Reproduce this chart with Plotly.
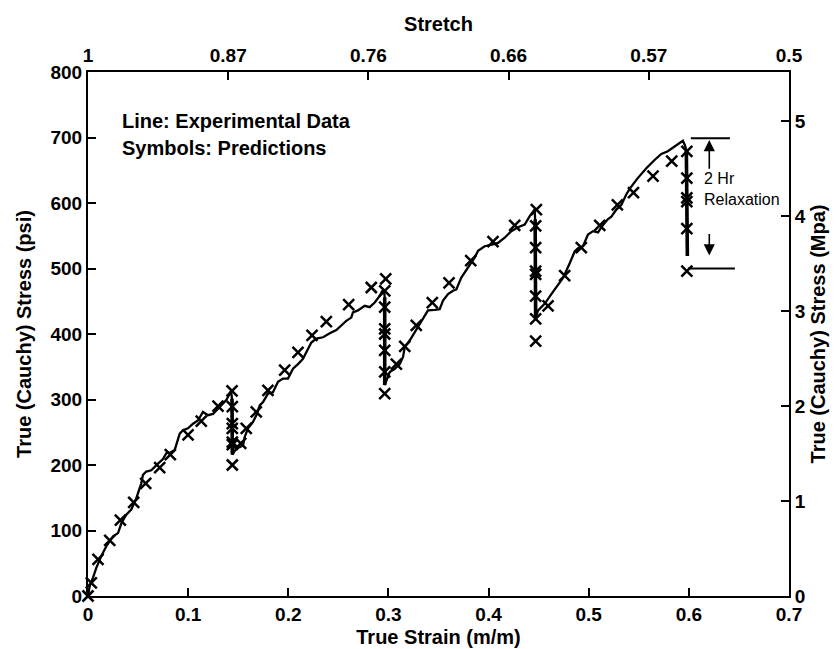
import plotly.graph_objects as go

# ---------------- data ----------------
# Experimental curve: true strain (m/m) and true stress (psi)
exp_strain = [0, 0.0017, 0.005, 0.0083, 0.0133, 0.0183, 0.025, 0.030, 0.0333, 0.0382,
              0.0432, 0.0482, 0.0532, 0.0549, 0.0582, 0.0632, 0.0699, 0.0749, 0.0782, 0.0822,
              0.0866, 0.0916, 0.0949, 0.0998, 0.1049, 0.1098, 0.1148, 0.1198, 0.1248, 0.1315,
              0.1381, 0.1415, 0.1428, 0.1438, 0.1441,
              0.1481, 0.1548, 0.1565, 0.1598, 0.1648, 0.1681, 0.1715, 0.1748, 0.1797, 0.1847,
              0.1897, 0.1947, 0.1997, 0.2047, 0.2097, 0.2147, 0.2180, 0.2230, 0.2280, 0.2347,
              0.2414, 0.2480, 0.2529, 0.2579, 0.2629, 0.2646, 0.2696, 0.2763, 0.2813, 0.2863,
              0.2913, 0.2936, 0.2955, 0.2963, 0.2963,
              0.3013, 0.3063, 0.3113, 0.3146, 0.3163, 0.3212, 0.3262, 0.3312, 0.3362, 0.3395,
              0.3462, 0.3512, 0.3545, 0.3595, 0.3645, 0.3678, 0.3728, 0.3795, 0.3862, 0.3895,
              0.3961, 0.4044, 0.4094, 0.4161, 0.4227, 0.4294, 0.4361, 0.4411, 0.4444, 0.4460,
              0.4465, 0.4470,
              0.4494, 0.4560, 0.4627, 0.4693, 0.4745, 0.4810, 0.4860, 0.4893, 0.4943, 0.4993,
              0.5043, 0.5093, 0.5135, 0.5190, 0.5226, 0.5276, 0.5325, 0.5375, 0.5410, 0.5490,
              0.5575, 0.5660, 0.5725, 0.5790, 0.5860, 0.5910, 0.5940, 0.5958, 0.5975, 0.5985]
exp_stress = [0, 15, 28, 43, 61, 76, 91, 96, 111, 124,
              132, 149, 172, 185, 190, 192, 202, 209, 218, 219,
              223, 248, 253, 256, 263, 268, 281, 276, 278, 288,
              299, 309, 313, 301, 216,
              225, 230, 243, 256, 266, 276, 291, 296, 309, 311,
              327, 332, 332, 347, 354, 362, 372, 387, 393, 395,
              401, 406, 413, 420, 425, 433, 436, 443, 441, 448,
              458, 465, 468, 456, 322,
              342, 347, 354, 365, 380, 390, 403, 415, 428, 436,
              437, 438, 451, 461, 466, 468, 486, 501, 517, 527,
              534, 537, 539, 547, 557, 563, 567, 580, 588, 590,
              575, 425,
              436, 446, 461, 476, 486, 508, 526, 531, 534, 552,
              557, 555, 565, 575, 579, 590, 597, 613, 622, 638,
              653, 666, 675, 679, 686, 691, 695, 689, 681, 519]

# Relaxation holds of the experiment (drawn heavier in the reference)
hold_strain = [0.1438, 0.1441, None, 0.2963, 0.2963, None, 0.4465, 0.4470, None, 0.5975, 0.5985]
hold_stress = [301, 216, None, 456, 322, None, 575, 425, None, 681, 519]

# Model predictions (symbols)
pred_strain = [0, 0.0033, 0.010, 0.0217, 0.0323, 0.0456, 0.0576, 0.0716, 0.0822, 0.0999,
               0.1131, 0.1298, 0.1438,
               0.1441, 0.1441, 0.1441, 0.1441, 0.1441, 0.1441,
               0.1525, 0.1580, 0.1680, 0.1797, 0.1964, 0.2097, 0.2237, 0.2380, 0.2603, 0.2829,
               0.2973,
               0.2963, 0.2963, 0.2963, 0.2963, 0.2963, 0.2963, 0.2963,
               0.3079, 0.3163, 0.3278, 0.3438, 0.3605, 0.3822, 0.4044, 0.4261, 0.4477,
               0.4470, 0.4470, 0.4470, 0.4470, 0.4470, 0.4470, 0.4470,
               0.4594, 0.4760, 0.4926, 0.5110, 0.5286, 0.5447, 0.5642, 0.5829,
               0.5980, 0.5980, 0.5980, 0.5980, 0.5980, 0.5980]
pred_stress = [0, 20, 56, 85, 116, 143, 172, 196, 216, 246,
               267, 290, 313,
               289, 263, 256, 235, 231, 200,
               233, 256, 281, 314, 345, 372, 398, 419, 445, 471,
               484,
               466, 441, 408, 400, 375, 342, 309,
               354, 381, 413, 448, 478, 512, 541, 566, 590,
               565, 532, 496, 491, 458, 423, 389,
               443, 489, 532, 566, 597, 616, 641, 664,
               679, 638, 608, 602, 561, 496]

# Axis ticks
psi_ticks = [0, 100, 200, 300, 400, 500, 600, 700, 800]
mpa_ticks = [0, 1, 2, 3, 4, 5]
strain_ticks = [0, 0.1, 0.2, 0.3, 0.4, 0.5, 0.6, 0.7]
stretch_tick_strain = [0, 0.14, 0.28, 0.42, 0.56, 0.70]
stretch_labels = ["1", "0.87", "0.76", "0.66", "0.57", "0.5"]

PSI_PER_MPA = 145.04
X_RANGE = [0, 0.7]
Y_RANGE = [0, 800]

# Relaxation bracket (strain, psi)
relax_top = 699
relax_bottom = 500

FONT = "Liberation Sans, Arial, Helvetica, sans-serif"

fig = go.Figure()

fig.add_trace(go.Scatter(
    x=exp_strain, y=exp_stress, mode="lines",
    line=dict(color="black", width=2.3), showlegend=False, hoverinfo="skip"))

fig.add_trace(go.Scatter(
    x=hold_strain, y=hold_stress, mode="lines",
    line=dict(color="black", width=3.6), showlegend=False, hoverinfo="skip",
    connectgaps=False))

fig.add_trace(go.Scatter(
    x=pred_strain, y=pred_stress, mode="markers",
    marker=dict(symbol="x-thin", size=11, color="black",
                line=dict(color="black", width=2.5)),
    showlegend=False, hoverinfo="skip", cliponaxis=False))

# invisible trace to activate the top / right axes
fig.add_trace(go.Scatter(x=[X_RANGE[0]], y=[0], xaxis="x2", yaxis="y2",
                         mode="markers", marker=dict(opacity=0),
                         showlegend=False, hoverinfo="skip"))

axis_common = dict(showline=True, linecolor="black", linewidth=2,
                   ticks="inside", ticklen=8, tickwidth=2, tickcolor="black",
                   showgrid=False, zeroline=False,
                   tickfont=dict(family=FONT, size=19, color="black", weight="bold"))

title_font = dict(family=FONT, size=20, color="black", weight="bold")

fig.update_layout(
    width=840, height=649,
    margin=dict(l=80, r=59, t=64, b=59),
    paper_bgcolor="white", plot_bgcolor="white",
    xaxis=dict(range=X_RANGE, tickvals=strain_ticks,
               ticktext=[f"{v:g}" for v in strain_ticks],
               title=dict(text="True Strain (m/m)", standoff=6, font=title_font),
               **axis_common),
    xaxis2=dict(range=X_RANGE, overlaying="x", side="top", tickvals=stretch_tick_strain,
                ticktext=stretch_labels,
                title=dict(text="Stretch", standoff=8, font=title_font),
                **axis_common),
    yaxis=dict(range=Y_RANGE, tickvals=psi_ticks,
               title=dict(text="True (Cauchy) Stress (psi)", standoff=13, font=title_font),
               **axis_common),
    yaxis2=dict(range=[Y_RANGE[0] / PSI_PER_MPA, Y_RANGE[1] / PSI_PER_MPA],
                overlaying="y", side="right", tickvals=mpa_ticks,
                title=dict(text="True (Cauchy) Stress (Mpa)", standoff=6, font=title_font),
                **axis_common),
)

# "legend" text
fig.add_annotation(x=0.045, y=0.906, xref="paper", yref="paper", xanchor="left",
                   yanchor="middle", showarrow=False, text="<b>Line: Experimental Data</b>",
                   font=dict(family=FONT, size=20, color="black"))
fig.add_annotation(x=0.045, y=0.855, xref="paper", yref="paper", xanchor="left",
                   yanchor="middle", showarrow=False, text="<b>Symbols: Predictions</b>",
                   font=dict(family=FONT, size=20, color="black"))

# Relaxation bracket
fig.add_shape(type="line", x0=0.602, x1=0.641, y0=relax_top, y1=relax_top,
              line=dict(color="black", width=2))
fig.add_shape(type="line", x0=0.599, x1=0.646, y0=relax_bottom, y1=relax_bottom,
              line=dict(color="black", width=2))
fig.add_annotation(x=0.6204, y=696, ax=0.6204, ay=650, xref="x", yref="y",
                   axref="x", ayref="y", showarrow=True, arrowhead=2, arrowsize=1.4,
                   arrowwidth=1.6, arrowcolor="black", text="")
fig.add_annotation(x=0.6204, y=520, ax=0.6204, ay=555, xref="x", yref="y",
                   axref="x", ayref="y", showarrow=True, arrowhead=2, arrowsize=1.4,
                   arrowwidth=1.6, arrowcolor="black", text="")
fig.add_annotation(x=0.613, y=621, xref="x", yref="y", xanchor="left", yanchor="middle",
                   showarrow=False, align="left", text="2 Hr<br>Relaxation",
                   font=dict(family=FONT, size=16, color="black"))

fig.write_html("out.html")
